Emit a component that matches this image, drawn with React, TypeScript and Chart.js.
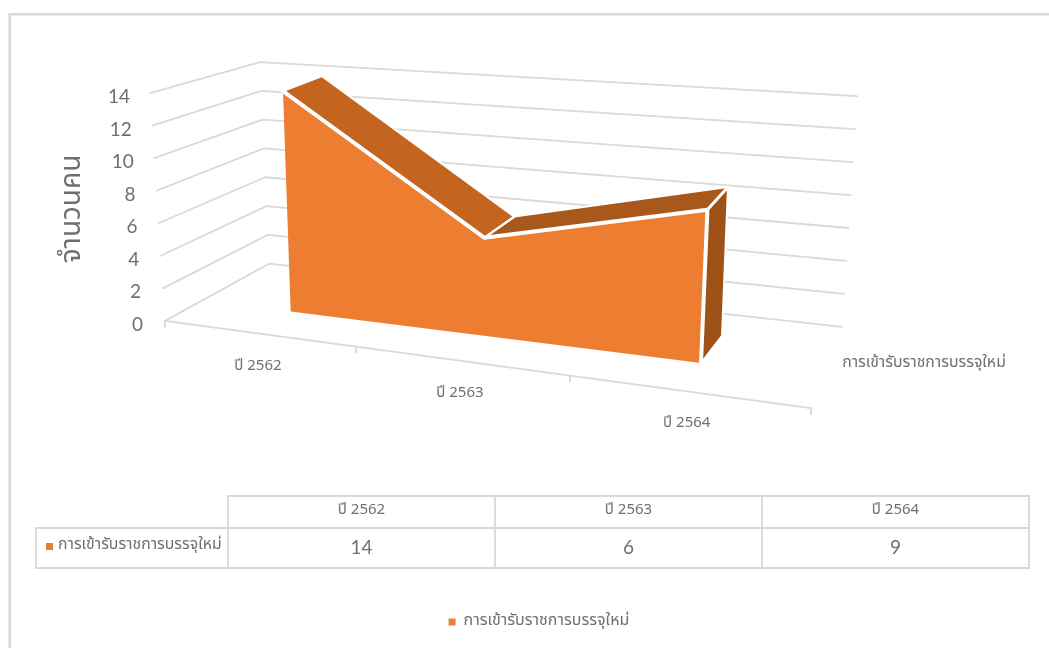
import { useEffect, useRef } from "react";
import { Chart, registerables } from "chart.js";

Chart.register(...registerables);

const categories = ["ปี 2562", "ปี 2563", "ปี 2564"];
const recruits = [14, 6, 9];
const yTicks = [0, 2, 4, 6, 8, 10, 12, 14];
const seriesName = "การเข้ารับราชการบรรจุใหม่";
const yTitle = "จำนวนคน";

const WIDTH = 1049;
const HEIGHT = 648;
const THAI = '"Noto Sans Thai", "Noto Sans", "Liberation Sans", sans-serif';
const LATIN = 'Lato, "Noto Sans", sans-serif';
const INK = "#6f6f6f";
const RULE = "#d9d9d9";
const FACE = "#ED7D31";

type Pt = { x: number; y: number };
type Plane = { ll: Pt; lh: Pt; rl: Pt; rh: Pt; bend: number };

const TOP = 14;

// Bilinear placement on a receding plane; "bend" foreshortens the horizontal run.
function place(plane: Plane, s: number, v: number): Pt {
  const t = (s * plane.bend) / (1 + s * (plane.bend - 1));
  const k = v / TOP;
  const lx = plane.ll.x + (plane.lh.x - plane.ll.x) * k;
  const ly = plane.ll.y + (plane.lh.y - plane.ll.y) * k;
  const rx = plane.rl.x + (plane.rh.x - plane.rl.x) * k;
  const ry = plane.rl.y + (plane.rh.y - plane.rl.y) * k;
  return { x: lx + (rx - lx) * t, y: ly + (ry - ly) * t };
}

const frontFace: Plane = {
  ll: { x: 290.7, y: 310.7 },
  lh: { x: 283, y: 91 },
  rl: { x: 701, y: 362 },
  rh: { x: 711, y: 124.5 },
  bend: 0.89,
};
const backFace: Plane = {
  ll: { x: 329, y: 290 },
  lh: { x: 322, y: 76 },
  rl: { x: 722, y: 335 },
  rh: { x: 731.3, y: 104 },
  bend: 0.89,
};
const sideWall: Plane = {
  ll: { x: 165, y: 320 },
  lh: { x: 150, y: 93 },
  rl: { x: 269, y: 263 },
  rh: { x: 260, y: 62 },
  bend: 1,
};
const backWall: Plane = {
  ll: { x: 269, y: 263 },
  lh: { x: 260, y: 62 },
  rl: { x: 842, y: 326 },
  rh: { x: 857, y: 96 },
  bend: 1,
};
const floorEdge: Plane = {
  ll: { x: 165, y: 320 },
  lh: { x: 165, y: 320 },
  rl: { x: 811, y: 407 },
  rh: { x: 811, y: 407 },
  bend: 0.84,
};

const last = categories.length - 1;
const front = (i: number, v: number) => place(frontFace, i / last, v);
const back = (i: number, v: number) => place(backFace, i / last, v);

function stroke(data: Pt[], color: string, width: number, order: number) {
  return {
    data,
    borderColor: color,
    borderWidth: width,
    backgroundColor: "transparent",
    fill: false,
    pointRadius: 0,
    tension: 0,
    clip: false,
    order,
    xAxisID: "xs",
    yAxisID: "ys",
    borderCapStyle: "round",
    borderJoinStyle: "round",
  };
}

function face(data: Pt[], color: string, halo: number, order: number, label?: string) {
  return {
    ...stroke([...data, data[0]], halo ? "#ffffff" : color, halo, order),
    backgroundColor: color,
    fill: "shape",
    label,
  };
}

function buildDatasets() {
  const grid = yTicks.map((v) =>
    stroke([place(sideWall, 0, v), place(sideWall, 1, v), place(backWall, 1, v)], RULE, 1.8, 9),
  );
  const run = [0, 1, 2, 3].map((n) => n / categories.length);
  const floor = stroke(run.map((s) => place(floorEdge, s, 0)), RULE, 1.8, 9);
  const ticks = run.map((s) => {
    const p = place(floorEdge, s, 0);
    return stroke([p, { x: p.x, y: p.y + 6 }], RULE, 1.8, 9);
  });
  const slopes = [0, 1].map((i) =>
    face(
      [front(i, recruits[i]), front(i + 1, recruits[i + 1]), back(i + 1, recruits[i + 1]), back(i, recruits[i])],
      i === 0 ? "#C4651F" : "#A9581C",
      2,
      4,
    ),
  );
  const side = face(
    [front(last, recruits[last]), front(last, 0), back(last, 0), back(last, recruits[last])],
    "#9F5218",
    2,
    4,
  );
  const frontData = [
    front(0, 0),
    ...recruits.map((v, i) => front(i, v)),
    front(last, 0),
  ];
  const main = face(frontData, FACE, 0, 3, seriesName);
  const rim = stroke(
    [...recruits.map((v, i) => front(i, v)), front(last, 0)],
    "#ffffff",
    4,
    2,
  );
  const creases = [1, 2].map((i) =>
    stroke([front(i, recruits[i]), back(i, recruits[i])], "#ffffff", i === 1 ? 2 : 3, 2),
  );
  return [...grid, floor, ...ticks, ...slopes, side, main, rim, ...creases];
}

function text(
  ctx: CanvasRenderingContext2D,
  value: string,
  x: number,
  y: number,
  font: string,
  align: CanvasTextAlign = "center",
) {
  ctx.font = font;
  ctx.textAlign = align;
  ctx.textBaseline = "middle";
  ctx.fillStyle = INK;
  ctx.fillText(value, x, y);
}

const columns = [228, 495, 762, 1029];
const rows = [496, 528, 568];

// Page frame, wall and floor captions, and the data table under the plot.
const annotations = {
  id: "annotations",
  beforeDraw(chart: any) {
    // Slide the y tick labels along the slanted left wall.
    const y = chart.scales.y;
    y.getLabelItems().forEach((item: any) => {
      if (item._moved) return;
      item._moved = true;
      item.options.translation[0] -= (Number(item.label) * 13) / TOP;
    });
    // The legend sits well below the plot, under the table.
    const legend = chart.legend;
    legend.left = 0;
    legend.right = 1078;
    legend.top = 604;
    legend.bottom = 640;
    const { ctx } = chart;
    ctx.save();
    ctx.strokeStyle = RULE;
    ctx.lineWidth = 2.6;
    ctx.beginPath();
    ctx.moveTo(9.7, HEIGHT);
    ctx.lineTo(9.7, 14.3);
    ctx.lineTo(WIDTH, 14.3);
    ctx.stroke();
    ctx.restore();
  },
  afterDraw(chart: any) {
    const { ctx } = chart;
    ctx.save();
    categories.forEach((name, i) => {
      const p = place(floorEdge, (i + 0.5) / categories.length, 0);
      text(ctx, name, p.x, p.y + 34, `15px ${THAI}`);
    });
    text(ctx, seriesName, 924, 364, `15.8px ${THAI}`);

    ctx.strokeStyle = RULE;
    ctx.lineWidth = 1.8;
    ctx.beginPath();
    ctx.moveTo(columns[0], rows[2]);
    ctx.lineTo(columns[0], rows[0]);
    ctx.lineTo(columns[3], rows[0]);
    ctx.lineTo(columns[3], rows[2]);
    ctx.lineTo(36, rows[2]);
    ctx.lineTo(36, rows[1]);
    ctx.lineTo(columns[3], rows[1]);
    ctx.moveTo(columns[1], rows[0]);
    ctx.lineTo(columns[1], rows[2]);
    ctx.moveTo(columns[2], rows[0]);
    ctx.lineTo(columns[2], rows[2]);
    ctx.stroke();

    categories.forEach((name, i) => {
      const mid = (columns[i] + columns[i + 1]) / 2;
      text(ctx, name, mid, 511, `15px ${THAI}`);
      text(ctx, String(recruits[i]), mid, 548, `19px ${LATIN}`);
    });
    ctx.fillStyle = "#D9843A";
    ctx.fillRect(46, 543, 7, 7);
    text(ctx, seriesName, 58, 546, `15.8px ${THAI}`, "left");
    ctx.restore();
  },
};

export default function App() {
  const ref = useRef<HTMLCanvasElement>(null);
  useEffect(() => {
    const chart = new Chart(ref.current as HTMLCanvasElement, {
      type: "line",
      data: { datasets: buildDatasets() as any },
      plugins: [annotations],
      options: {
        animation: false,
        responsive: false,
        devicePixelRatio: 1,
        layout: {
          autoPadding: false,
          padding: { left: 50, right: 9, top: 53, bottom: 247 },
        },
        plugins: {
          tooltip: { enabled: false },
          legend: {
            position: "bottom",
            labels: {
              boxWidth: 7,
              boxHeight: 7,
              color: INK,
              font: { family: THAI, size: 16 },
              filter: (item: any) => item.text === seriesName,
            },
          },
        },
        scales: {
          xs: { type: "linear", display: false, min: 150, max: 1040, position: "bottom" },
          ys: { type: "linear", display: false, min: 53, max: 364, reverse: true, position: "left" },
          y: {
            type: "linear",
            position: "left",
            min: -2.5,
            max: 16.7,
            afterBuildTicks: (scale: any) => {
              scale.ticks = yTicks.map((value) => ({ value }));
            },
            afterFit: (scale: any) => {
              scale.width = 100;
            },
            grid: { display: false, drawTicks: false },
            border: { display: false },
            ticks: {
              padding: 7,
              autoSkip: false,
              color: INK,
              font: { family: LATIN, size: 19 },
              callback: (v: any) => String(v),
            },
            title: {
              display: true,
              text: yTitle,
              color: INK,
              font: { family: THAI, size: 28 },
              padding: { top: 8, bottom: 0 },
            },
          },
        },
      } as any,
    });
    return () => chart.destroy();
  }, []);
  return (
    <canvas
      ref={ref}
      width={WIDTH}
      height={HEIGHT}
      style={{ position: "fixed", left: 0, top: 0, display: "block" }}
    />
  );
}
